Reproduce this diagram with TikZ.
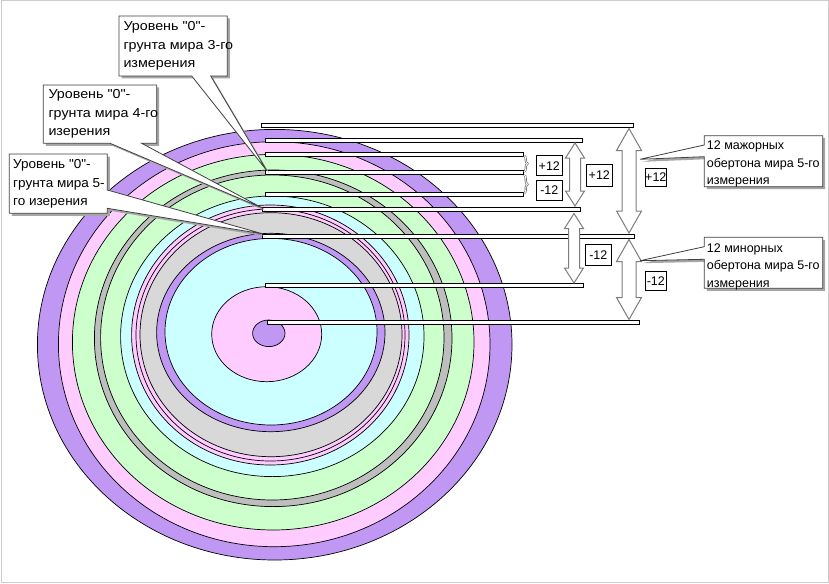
\documentclass[tikz,border=0pt]{standalone}
\usepackage{fontspec}
\setmainfont{Liberation Sans}
\newfontfamily\wideFont[FakeStretch=1.1]{Liberation Sans}
\newfontfamily\midFont[FakeStretch=1.04]{Liberation Sans}
\usetikzlibrary{shadows,decorations.pathreplacing,calc}
\definecolor{cPurple}{RGB}{192,152,244}
\definecolor{cPink}{RGB}{255,204,255}
\definecolor{cGreen}{RGB}{204,255,204}
\definecolor{cGrayD}{RGB}{190,190,190}
\definecolor{cGrayL}{RGB}{216,216,216}
\definecolor{cCyan}{RGB}{204,255,255}
\definecolor{cArrow}{RGB}{125,125,125}
\newcommand{\ringE}[5]{\draw[ring,fill=#5] (#1,#2) ellipse [x radius=#3, y radius=#4];}
\newcommand{\vDblArrow}[6]{%
 \draw[dblarrow] (#1,#2) -- ({#1+#4},{#2+#6}) -- ({#1+#5},{#2+#6}) -- ({#1+#5},{#3-#6}) -- ({#1+#4},{#3-#6}) -- (#1,#3) -- ({#1-#4},{#3-#6}) -- ({#1-#5},{#3-#6}) -- ({#1-#5},{#2+#6}) -- ({#1-#4},{#2+#6}) -- cycle;}
\begin{document}
\begin{tikzpicture}[x=1pt,y=-1pt,
 ring/.style={draw=black,line width=0.7pt},
 hline/.style={draw=black,fill=white,line width=0.8pt},
 dblarrow/.style={draw=cArrow,fill=white,line width=1pt,line join=miter},
 valbox/.style={draw=black,fill=white,line width=0.8pt,minimum width=26.5pt,minimum height=20pt,inner sep=0pt,font=\fontsize{12.5}{14}\selectfont},
 callout/.style={draw=black!75,fill=white,line width=0.8pt,drop shadow={shadow xshift=2.5pt,shadow yshift=-2.5pt,fill=black!35,opacity=1}},
 calltext/.style={anchor=north west,inner sep=0pt,align=left,font=\wideFont\fontsize{13}{18.3}\selectfont},
 calltextC/.style={anchor=north west,inner sep=0pt,align=left,font=\midFont\fontsize{13}{18.3}\selectfont},
 calltextR/.style={anchor=north west,inner sep=0pt,align=left,font=\fontsize{12.5}{17.5}\selectfont},
 bracest/.style={decorate,decoration={brace,amplitude=3.5pt},draw=cArrow!80!black,double=white,double distance=0.9pt,line width=0.6pt}]
\useasboundingbox (0,0) rectangle (829,583);
\fill[white] (0,0) rectangle (829,583);
\draw[gray!40,line width=1pt] (1,1) rectangle (828,582);
% rings
\ringE{274.7}{344.7}{237.3}{215.3}{cPurple}
\ringE{274.2}{344.2}{215.8}{202.5}{cPink}
\ringE{273.2}{342.2}{200.8}{187.8}{cGreen}
\ringE{273.2}{338.3}{178.8}{168.3}{cGrayD}
\ringE{272.3}{337.5}{171.7}{162.5}{cGreen}
\ringE{272.3}{336.3}{151.7}{140.3}{cCyan}
\ringE{270.3}{335}{138.7}{130}{cPink}
\ringE{270.5}{335}{134.5}{126}{cPink}
\ringE{271}{334.7}{131}{122}{cGrayL}
\ringE{270.8}{332.5}{114.2}{99.2}{cPurple}
\ringE{271}{331.7}{106}{93.3}{cCyan}
\ringE{266.7}{334.2}{55}{47.5}{cPink}
\ringE{268.8}{333.3}{16.2}{13.3}{cPurple}
% horizontal level lines
\draw[hline] (261.7,123.7) rectangle (633.3,127.7);
\draw[hline] (265,138) rectangle (582.3,142);
\draw[hline] (265,152.3) rectangle (523.3,156.3);
\draw[hline] (265.7,170.3) rectangle (523.3,174.3);
\draw[hline] (265.7,192.3) rectangle (523.3,196.3);
\draw[hline] (262.3,207.3) rectangle (580.7,211.3);
\draw[hline] (262.3,234) rectangle (634.3,238);
\draw[hline] (265.7,283.7) rectangle (583.3,287.7);
\draw[hline] (267.3,320.3) rectangle (639.3,324.3);
% braces
\draw[bracest] (524,155.5) -- (524,172);
\draw[bracest] (524,175) -- (524,193.5);
% double arrows
\vDblArrow{575}{143}{206}{9.5}{5.5}{15}
\vDblArrow{574}{213.5}{283}{9.5}{5.5}{15}
\vDblArrow{629}{128.5}{233}{12.5}{7}{22}
\vDblArrow{629}{239.5}{319.5}{12.5}{7}{22}
% value boxes
\node[valbox] (v1) at (549.3,165.7) {+12};
\node[valbox] (v2) at (549.3,190.3) {-12};
\node[valbox,minimum height=22pt] (v3) at (599.3,175.5) {+12};
\node[valbox,minimum height=21pt] (v4) at (598.3,255) {-12};
\node[valbox,minimum width=21.7pt,minimum height=18.4pt] (v5) at (655.8,177.5) {+12};
\node[valbox,minimum width=21.7pt,minimum height=18.4pt] (v6) at (655.8,280.8) {-12};
% callout tips
\coordinate (tipA) at (266.7,170.5);
\coordinate (tipB) at (263.3,208.5);
\coordinate (tipC) at (263.3,234);
\coordinate (tipR1) at (640,159.3);
\coordinate (tipR2) at (640,260.7);
% callouts
\path[callout] (119,16) -- (227.3,16) -- (227.3,76) -- (210.7,76) -- (tipA) -- (191.7,76) -- (119,76) -- cycle;
\path[callout] (43.3,85) -- (156.7,85) -- (156.7,143.3) -- (141.7,143.3) -- (tipB) -- (110,143.3) -- (43.3,143.3) -- cycle;
\path[callout] (9.3,154) -- (107.3,154) -- (107.3,190) -- (tipC) -- (107.3,208.3) -- (107.3,213.3) -- (9.3,213.3) -- cycle;
\path[callout] (704.3,135.7) -- (822.7,135.7) -- (822.7,186.7) -- (704.3,186.7) -- (704.3,156.7) -- (tipR1) -- (704.3,145) -- cycle;
\path[callout] (704.3,237.3) -- (822.7,237.3) -- (822.7,288.3) -- (704.3,288.3) -- (704.3,259.3) -- (tipR2) -- (704.3,246.7) -- cycle;
% callout texts
\node[calltext] (tA) at (123.3,21.5) {Уровень "0"-\\грунта мира 3-го\\измерения};
\node[calltext] (tB) at (48.3,89.5) {Уровень "0"-\\грунта мира 4-го\\изерения};
\node[calltextC] (tC) at (13,159.5) {Уровень "0"-\\грунта мира 5-\\го изерения};
\node[calltextR] (tR1) at (706.7,141) {12 мажорных\\обертона мира 5-го\\измерения};
\node[calltextR] (tR2) at (706.7,243.5) {12 минорных\\обертона мира 5-го\\измерения};
\end{tikzpicture}
\end{document}
